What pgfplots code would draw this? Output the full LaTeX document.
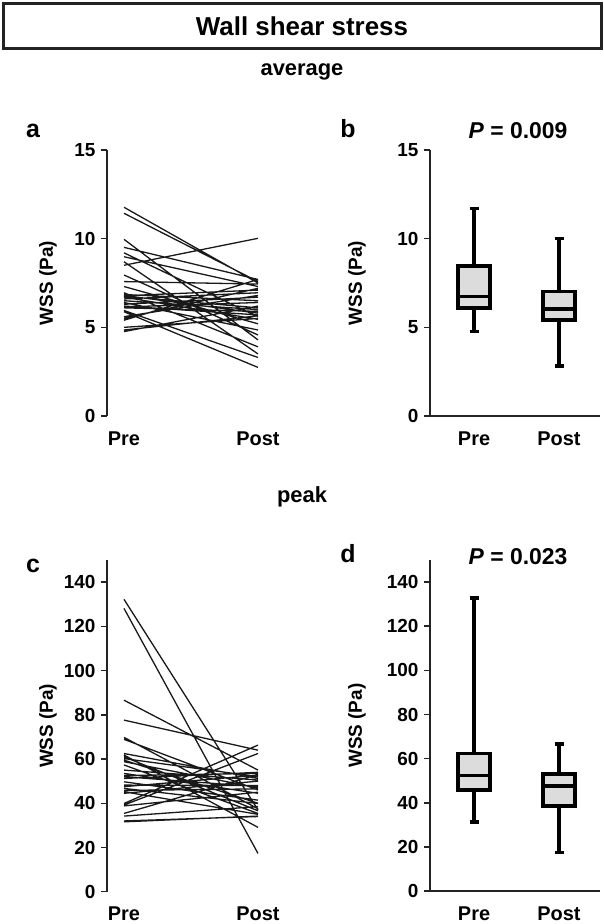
\documentclass[border=0pt]{standalone}
\usepackage{fontspec}
\setmainfont{Liberation Sans}
\usepackage{pgfplots}
\pgfplotsset{compat=1.18}
\definecolor{boxgray}{RGB}{220,220,220}
\definecolor{axgray}{RGB}{35,35,35}
\newcommand{\fs}[1]{\fontsize{#1}{#1}\selectfont\bfseries}
\pgfplotsset{
  panel/.style={scale only axis, axis lines=left,
    axis line style={-, line width=1.5bp, draw=axgray},
    tick align=outside, major tick length=6bp,
    ytick style={line width=1.5bp, draw=axgray},
    xtick={1,2}, xticklabels={Pre,Post}, xtick style={draw=none},
    yticklabel style={font=\fs{19}, xshift=-2bp},
    xticklabel style={font=\fs{20}, yshift=-6bp},
    /pgf/number format/assume math mode=true,
    clip=false, ylabel={WSS (Pa)}},
  linesp/.style={no marks, black!90, line width=1.3bp, unbounded coords=jump},
  boxfill/.style={no marks, draw=black, line width=3.5bp, fill=boxgray, line join=miter},
  boxline/.style={no marks, black, line width=3.5bp, unbounded coords=jump},
}
\begin{document}
\begin{tikzpicture}
\useasboundingbox (0,0) rectangle (604bp,-924bp);
% title
\draw[line width=3bp, draw=axgray] (3bp,-3bp) rectangle (601bp,-48bp);
\node[font=\fs{26}] at (302bp,-26bp) {Wall shear stress};
\node[font=\fs{22}] at (302bp,-72bp) {average};
\node[font=\fs{22}] at (302bp,-497bp) {peak};
\node[font=\fs{25}] at (33bp,-131bp) {a};
\node[font=\fs{25}] at (348bp,-129bp) {b};
\node[font=\fs{25}] at (33bp,-566bp) {c};
\node[font=\fs{25}] at (348bp,-554bp) {d};
\node[font=\fs{23}] at (518bp,-131bp) {\textit{P} = 0.009};
\node[font=\fs{23}] at (518bp,-557bp) {\textit{P} = 0.023};

% panel a
\begin{axis}[panel, at={(107bp,-416bp)}, anchor=south west,
  width=164.4bp, height=266bp, xmin=0.873, xmax=2.1, ymin=0, ymax=15,
  ytick={0,5,10,15}, x axis line style={draw=none},
  ylabel style={font=\fs{19}, at={(axis description cs:-0.359,0.5)}, anchor=center}]
\addplot[linesp] coordinates {
(1,11.77)(2,7.5)(2,nan)
(1,11.43)(2,7.58)(2,nan)
(1,9.96)(2,4.29)(2,nan)
(1,9.51)(2,7.7)(2,nan)
(1,9.2)(2,5.6)(2,nan)
(1,8.98)(2,7.3)(2,nan)
(1,8.7)(2,3.5)(2,nan)
(1,8.5)(2,10.02)(2,nan)
(1,7.95)(2,4.57)(2,nan)
(1,7.58)(2,7.44)(2,nan)
(1,7.3)(2,5.2)(2,nan)
(1,6.95)(2,3.9)(2,nan)
(1,6.85)(2,6.5)(2,nan)
(1,6.8)(2,5.8)(2,nan)
(1,6.78)(2,7.1)(2,nan)
(1,6.75)(2,6.1)(2,nan)
(1,6.7)(2,5.45)(2,nan)
(1,6.6)(2,6.95)(2,nan)
(1,6.5)(2,6.0)(2,nan)
(1,6.4)(2,4.85)(2,nan)
(1,6.3)(2,6.7)(2,nan)
(1,6.2)(2,5.7)(2,nan)
(1,6.15)(2,6.4)(2,nan)
(1,6.1)(2,5.9)(2,nan)
(1,5.95)(2,3.3)(2,nan)
(1,5.88)(2,2.74)(2,nan)
(1,5.6)(2,6.8)(2,nan)
(1,5.5)(2,7.2)(2,nan)
(1,5.4)(2,7.7)(2,nan)
(1,5.0)(2,5.5)(2,nan)
(1,4.85)(2,5.65)(2,nan)
(1,4.76)(2,6.2)
};
\end{axis}

% panel b
\begin{axis}[panel, at={(430bp,-416bp)}, anchor=south west,
  width=170bp, height=266bp, xmin=0.482, xmax=2.482, ymin=0, ymax=15,
  ytick={0,5,10,15},
  ylabel style={font=\fs{19}, at={(axis description cs:-0.429,0.5)}, anchor=center}]
\addplot[boxline] coordinates {
(1,8.46)(1,11.71)(1,nan)(0.947,11.71)(1.053,11.71)(1,nan)
(1,6.09)(1,4.77)(1,nan)(0.947,4.77)(1.053,4.77)(1,nan)
(2,7.01)(2,10.02)(2,nan)(1.947,10.02)(2.053,10.02)(2,nan)
(2,5.41)(2,2.82)(2,nan)(1.947,2.82)(2.053,2.82)
};
\addplot[boxfill] coordinates {(0.812,6.09)(1.188,6.09)(1.188,8.46)(0.812,8.46)} -- cycle;
\addplot[boxfill] coordinates {(1.812,5.41)(2.188,5.41)(2.188,7.01)(1.812,7.01)} -- cycle;
\addplot[boxline] coordinates {(0.812,6.73)(1.188,6.73)(1,nan)(1.812,6.03)(2.188,6.03)};
\end{axis}

% panel c
\begin{axis}[panel, at={(107bp,-891.7bp)}, anchor=south west,
  width=164.4bp, height=331.7bp, xmin=0.873, xmax=2.1, ymin=0, ymax=150,
  ytick={0,20,...,140}, x axis line style={draw=none},
  ylabel style={font=\fs{19}, at={(axis description cs:-0.359,0.5)}, anchor=center}]
\addplot[linesp] coordinates {
(1,132.2)(2,37)(2,nan)
(1,128.1)(2,17.3)(2,nan)
(1,86.6)(2,55)(2,nan)
(1,77.6)(2,64)(2,nan)
(1,69.8)(2,37.5)(2,nan)
(1,68.9)(2,46)(2,nan)
(1,62.5)(2,51.2)(2,nan)
(1,61.8)(2,29.1)(2,nan)
(1,61)(2,36.6)(2,nan)
(1,60.2)(2,52)(2,nan)
(1,59.5)(2,40)(2,nan)
(1,58.8)(2,47)(2,nan)
(1,57.3)(2,35.4)(2,nan)
(1,55)(2,50.5)(2,nan)
(1,53.5)(2,44.5)(2,nan)
(1,52.5)(2,53.5)(2,nan)
(1,52)(2,47.5)(2,nan)
(1,51.2)(2,54)(2,nan)
(1,49.7)(2,41.4)(2,nan)
(1,48.2)(2,48)(2,nan)
(1,47.5)(2,52.7)(2,nan)
(1,46.7)(2,39.9)(2,nan)
(1,45.8)(2,46.5)(2,nan)
(1,45.2)(2,35)(2,nan)
(1,44.5)(2,50)(2,nan)
(1,39.9)(2,66.3)(2,nan)
(1,39.2)(2,62.5)(2,nan)
(1,38.8)(2,45)(2,nan)
(1,35.4)(2,53)(2,nan)
(1,34.2)(2,38.5)(2,nan)
(1,32)(2,34)(2,nan)
(1,31.6)(2,34.2)
};
\end{axis}

% panel d
\begin{axis}[panel, at={(430bp,-891.2bp)}, anchor=south west,
  width=170bp, height=331.2bp, xmin=0.482, xmax=2.482, ymin=0, ymax=150,
  ytick={0,20,...,140},
  ylabel style={font=\fs{19}, at={(axis description cs:-0.429,0.5)}, anchor=center}]
\addplot[boxline] coordinates {
(1,62.4)(1,132.7)(1,nan)(0.947,132.7)(1.053,132.7)(1,nan)
(1,45.8)(1,31.4)(1,nan)(0.947,31.4)(1.053,31.4)(1,nan)
(2,53.0)(2,66.6)(2,nan)(1.947,66.6)(2.053,66.6)(2,nan)
(2,38.5)(2,17.5)(2,nan)(1.947,17.5)(2.053,17.5)
};
\addplot[boxfill] coordinates {(0.812,45.8)(1.188,45.8)(1.188,62.4)(0.812,62.4)} -- cycle;
\addplot[boxfill] coordinates {(1.812,38.5)(2.188,38.5)(2.188,53.0)(1.812,53.0)} -- cycle;
\addplot[boxline] coordinates {(0.812,52.3)(1.188,52.3)(1,nan)(1.812,47.7)(2.188,47.7)};
\end{axis}
\end{tikzpicture}
\end{document}
